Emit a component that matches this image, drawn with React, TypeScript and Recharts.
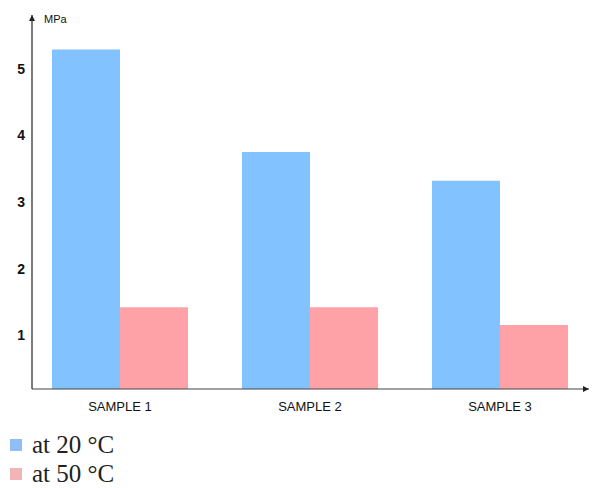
import React from 'react';
import { BarChart, Bar, XAxis, YAxis } from 'recharts';

const categories = ['SAMPLE 1', 'SAMPLE 2', 'SAMPLE 3'];
const at20 = [5.29, 3.75, 3.32];
const at50 = [1.42, 1.42, 1.15];
const yTicks = [1, 2, 3, 4, 5];
const seriesNames = ['at 20 °C', 'at 50 °C'];
const barColors = ['#82C2FF', '#FFA2A8'];
const legendColors = ['#8EBEF5', '#F2B4B5'];

const data = categories.map((name, i) => ({ name, at20: at20[i], at50: at50[i] }));

export default function App() {
  return (
    <div style={{ width: 582, height: 480, position: 'relative' }}>
      <BarChart
        width={582}
        height={420}
        data={data}
        margin={{ top: 7, right: 1, bottom: 9, left: 0 }}
        barGap={0}
        style={{ fontFamily: '"Liberation Sans", Arial, sans-serif' }}
      >
        <defs>
          <marker
            id="axisArrow"
            viewBox="0 0 10 10"
            refX={10}
            refY={5}
            markerWidth={6}
            markerHeight={6}
            markerUnits="userSpaceOnUse"
            orient="auto-start-reverse"
          >
            <path d="M0,0 L10,5 L0,10 z" fill="#222" />
          </marker>
        </defs>
        <XAxis
          dataKey="name"
          height={30}
          tickLine={false}
          tickSize={0}
          tickMargin={13}
          interval={0}
          padding={{ left: -7, right: -6 }}
          axisLine={{ stroke: '#444', strokeWidth: 1.2, markerEnd: 'url(#axisArrow)' }}
          tick={{ fontSize: 13, fill: '#111' }}
        />
        <YAxis
          width={24}
          type="number"
          domain={[0.19, 5.81]}
          ticks={yTicks}
          interval={0}
          tickLine={false}
          tickSize={0}
          tickMargin={7}
          axisLine={{ stroke: '#222', strokeWidth: 1.2, markerStart: 'url(#axisArrow)' }}
          tick={{ fontSize: 14, fontWeight: 'bold', fill: '#111' }}
          label={{ value: 'MPa', position: 'insideTopLeft', offset: 0, dx: 36, dy: 0, style: { fontSize: 11, fill: '#111' } }}
        />
        <Bar dataKey="at20" name={seriesNames[0]} fill={barColors[0]} barSize={68} isAnimationActive={false} />
        <Bar dataKey="at50" name={seriesNames[1]} fill={barColors[1]} barSize={68} isAnimationActive={false} />
      </BarChart>
      <div
        style={{
          position: 'absolute',
          left: 2,
          top: 421.75,
          fontFamily: '"Liberation Serif", "Times New Roman", serif',
          fontSize: 25,
          color: '#222',
        }}
      >
        {seriesNames.map((n, i) => (
          <div key={n} style={{ display: 'flex', alignItems: 'center', height: 29.5 }}>
            <span style={{ display: 'inline-block', width: 12, height: 12, background: legendColors[i], marginRight: 10 }} />
            <span style={{ lineHeight: '20px' }}>{n}</span>
          </div>
        ))}
      </div>
    </div>
  );
}
